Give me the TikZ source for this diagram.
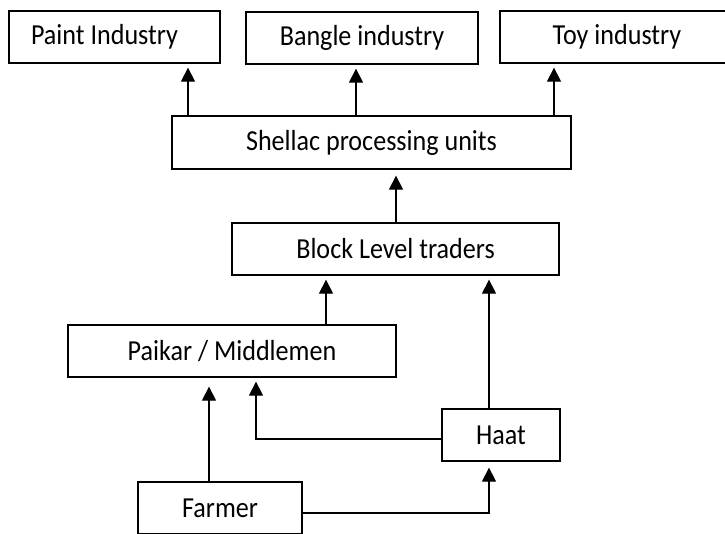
\documentclass[tikz,border=0pt]{standalone}
\usepackage{fontspec}
\setmainfont{Carlito}[FakeStretch=0.9]
\usetikzlibrary{arrows.meta}
\begin{document}
\begin{tikzpicture}[x=1pt,y=-1pt,
  box/.style={draw, line width=1.3pt, inner sep=0pt, minimum height=52pt,
    font=\fontsize{29}{33}\selectfont},
  arr/.style={line width=1.3pt, -{Triangle[length=14pt,width=14pt]}}]
\useasboundingbox (0,0) rectangle (725,533);
\node[box, minimum width=211pt] (paint) at (114.5,37) {\hspace*{-20pt}Paint Industry};
\node[box, minimum width=232pt] (bangle) at (362,38) {Bangle industry};
\node[box, minimum width=234pt] (toy) at (617,37) {Toy industry};
\node[box, minimum width=399pt, minimum height=53pt] (shellac) at (371.5,142.5) {Shellac processing units};
\node[box, minimum width=327pt] (block) at (395.5,249) {Block Level traders};
\node[box, minimum width=328pt] (paikar) at (232,351) {Paikar / Middlemen};
\node[box, minimum width=118pt] (haat) at (501,435) {Haat};
\node[box, minimum width=164pt] (farmer) at (220,508) {Farmer};
\draw[arr, shorten >=4pt] (shellac.north -| 188,0) -- (paint.south -| 188,0);
\draw[arr, shorten >=4pt] (shellac.north -| 356,0) -- (bangle.south -| 356,0);
\draw[arr, shorten >=4pt] (shellac.north -| 554,0) -- (toy.south -| 554,0);
\draw[arr, shorten >=6pt] (block.north -| 396,0) -- (shellac.south -| 396,0);
\draw[arr, shorten >=4pt] (paikar.north -| 326,0) -- (block.south -| 326,0);
\draw[arr, shorten >=4pt] (haat.north -| 489,0) -- (block.south -| 489,0);
\draw[arr, shorten >=9pt] (farmer.north -| 209,0) -- (paikar.south -| 209,0);
\draw[arr, shorten >=4pt] (haat.west |- 0,439) -- (256,439) -- (paikar.south -| 256,0);
\draw[arr, shorten >=6pt] (farmer.east |- 0,513) -- (489,513) -- (haat.south -| 489,0);
\end{tikzpicture}
\end{document}
